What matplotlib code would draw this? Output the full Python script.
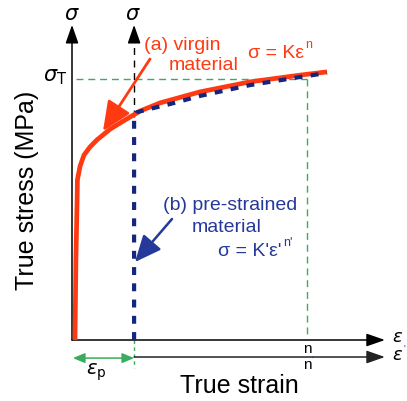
import matplotlib.pyplot as plt

plt.rcParams['font.family'] = ['Liberation Sans', 'DejaVu Sans']
plt.rcParams['mathtext.fontset'] = 'dejavusans'

# === DATA (normalised strain / stress units) ===
virgin_strain = [0.010, 0.013, 0.017, 0.018, 0.027, 0.040, 0.060, 0.083, 0.127,
                 0.177, 0.227, 0.293, 0.427, 0.593, 0.760, 0.850]
virgin_stress = [0.0, 0.296, 0.519, 0.593, 0.644, 0.685, 0.715, 0.741, 0.781,
                 0.815, 0.848, 0.878, 0.919, 0.956, 0.981, 0.993]

pre_strain = [0.207, 0.207, 0.217, 0.260, 0.327, 0.427, 0.593, 0.760, 0.850]
pre_stress = [0.0, 0.826, 0.844, 0.856, 0.874, 0.904, 0.944, 0.974, 0.989]

EPS_P = 0.207      # pre-strain offset
SIGMA_T = 0.967    # true stress at necking
N_STRAIN = 0.783   # strain = n
X_END = 1.043      # end of strain axes
Y_END = 1.167      # end of stress axes
X2_LEVEL = -0.063  # second strain axis

RED = '#ff3a12'
BLUE = '#25399b'
NAVY = '#16267e'
GREEN = '#3aac5c'

fig = plt.figure(figsize=(4.07, 4.01), dpi=100)
ax = fig.add_axes([0, 0, 1, 1])
ax.set_xlim(-72 / 300, 335 / 300)
ax.set_ylim(-61 / 270, 340 / 270)
ax.axis('off')


def px(x, y):
    # pixel position -> data coords (for labels only)
    return ((x - 72) / 300, (340 - y) / 270)


def axis_arrow(start, end, color='k', lw=1.1):
    ax.annotate('', xy=end, xytext=start,
                arrowprops=dict(arrowstyle='-|>,head_length=0.8,head_width=0.28',
                                color=color, lw=lw, mutation_scale=14,
                                shrinkA=0, shrinkB=0))


def sup(base, text, color, size=9, dx=1, dy=7):
    # superscript placed right after the base text
    ax.annotate(text, xy=(1, 0.5), xycoords=base, xytext=(dx, dy),
                textcoords='offset points', fontsize=size, color=color,
                ha='left', va='center')


# green guide lines
ax.plot([0.013, N_STRAIN], [SIGMA_T, SIGMA_T], color=GREEN, lw=1.0, dashes=(5, 3.5))
ax.plot([N_STRAIN, N_STRAIN], [SIGMA_T, 0.005], color=GREEN, lw=1.0, dashes=(5, 3.5))
ax.plot([EPS_P, EPS_P], [0, -0.104], color=GREEN, lw=1.0, dashes=(2.5, 2.5))
ax.annotate('', xy=(EPS_P, -0.067), xytext=(0.003, -0.067),
            arrowprops=dict(arrowstyle='<|-|>,head_length=0.6,head_width=0.25',
                            color=GREEN, lw=1.1, mutation_scale=12,
                            shrinkA=0, shrinkB=0))

# axes
axis_arrow((0, 0), (0, Y_END))
axis_arrow((0, 0), (X_END, 0))
axis_arrow((EPS_P, X2_LEVEL), (X_END, X2_LEVEL), color='#222222')
# shifted stress axis: dashed part above the pre-strained yield point
ax.plot([EPS_P, EPS_P], [pre_stress[1], Y_END - 0.04], color='k', lw=1.0, dashes=(5, 4))
axis_arrow((EPS_P, Y_END - 0.04), (EPS_P, Y_END))

# curves
ax.plot(virgin_strain, virgin_stress, color=RED, lw=3.4, solid_capstyle='butt',
        solid_joinstyle='round', zorder=4)
ax.plot(pre_strain, pre_stress, color=NAVY, lw=3.0, dashes=(1.9, 2.0), zorder=5)

# axis symbols
ax.text(*px(72, 14), r'$\sigma$', fontsize=15, ha='center', va='center')
ax.text(*px(133, 14), r'$\sigma$', fontsize=15, ha='center', va='center')
ax.text(*px(67, 77), r'$\sigma_{\mathrm{T}}$', fontsize=15, ha='right', va='center')
ax.text(*px(392, 338), r'$\varepsilon$', fontsize=13, ha='left', va='center')
e2 = ax.text(*px(392, 355), r'$\varepsilon$', fontsize=13, ha='left', va='center')
sup(e2, "'", BLUE, size=7, dx=0.5, dy=4)
ax.text(*px(307, 349), 'n', fontsize=11, ha='center', va='center')
n2 = ax.text(*px(307, 365), 'n', fontsize=11, ha='center', va='center')
sup(n2, "'", BLUE, size=7, dx=0.3, dy=3)
ax.text(*px(96, 372), r'$\varepsilon_{\mathrm{p}}$', fontsize=14, ha='center', va='center')

# axis titles
ax.text(*px(27, 190), 'True stress (MPa)', fontsize=18, rotation=90,
        ha='center', va='center')
ax.text(*px(239, 386), 'True strain', fontsize=18, ha='center', va='center')

# (a) virgin material
ax.text(*px(182, 45), '(a) virgin', fontsize=14, color=RED, ha='center', va='center')
ax.text(*px(204, 65), 'material', fontsize=14, color=RED, ha='center', va='center')
fa = ax.text(*px(248, 53), 'σ = Kε', fontsize=14, color=RED, ha='left', va='center')
sup(fa, 'n', RED, size=9, dx=1, dy=6)
ax.annotate('', xy=px(103, 131), xytext=px(150, 59),
            arrowprops=dict(arrowstyle='-|>,head_length=0.9,head_width=0.4',
                            color=RED, lw=2.0, mutation_scale=20,
                            shrinkA=0, shrinkB=0))

# (b) pre-strained material
ax.text(*px(230, 205), '(b) pre-strained', fontsize=14, color=BLUE, ha='center', va='center')
ax.text(*px(227, 227), 'material', fontsize=14, color=BLUE, ha='center', va='center')
fb = ax.text(*px(218, 251), "σ = K'ε'", fontsize=14, color=BLUE, ha='left', va='center')
sup(fb, "n'", BLUE, size=9, dx=1, dy=6)
ax.annotate('', xy=px(135, 262), xytext=px(172, 219),
            arrowprops=dict(arrowstyle='-|>,head_length=0.9,head_width=0.4',
                            color=BLUE, lw=1.8, mutation_scale=18,
                            shrinkA=0, shrinkB=0))

fig.savefig('out.png', dpi=100)
